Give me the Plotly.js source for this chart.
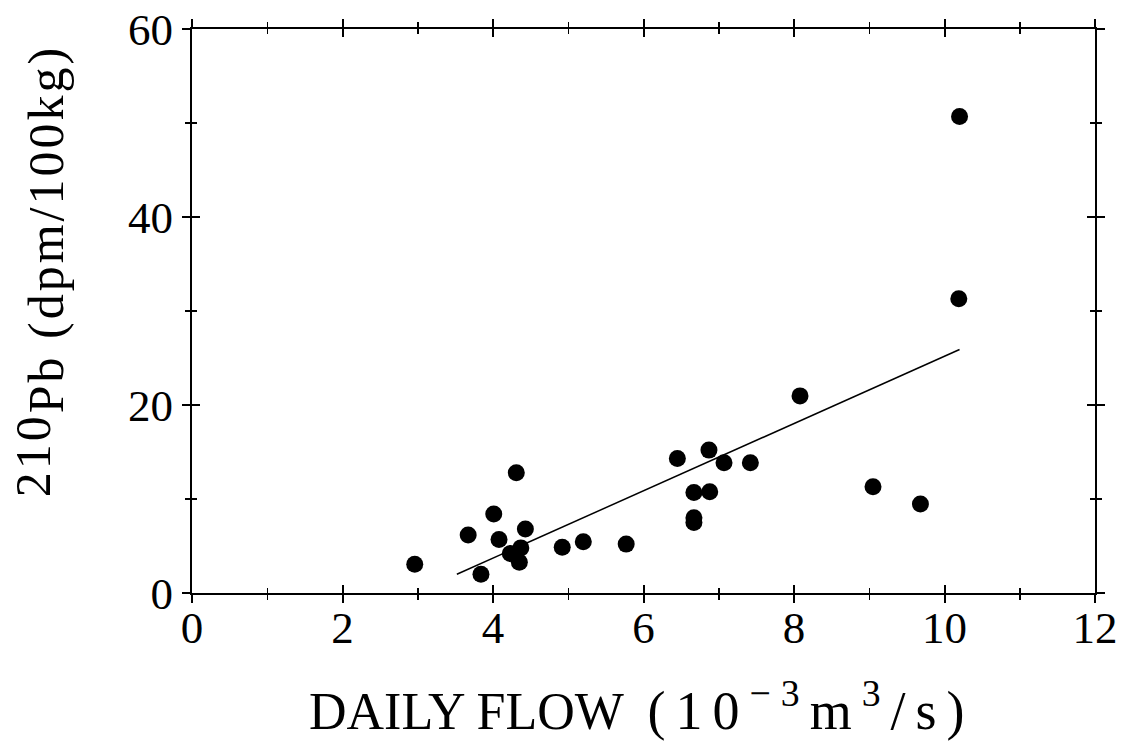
<!DOCTYPE html>
<html>
<head>
<meta charset="utf-8">
<script src="https://cdn.plot.ly/plotly-3.0.1.min.js"></script>
<style>html,body{margin:0;padding:0;background:#fff;}#chart{width:1129px;height:746px;}</style>
</head>
<body>
<div id="chart"></div>
<script>
// Daily flow (10^-3 m^3/s) and 210Pb (dpm/100kg)
const flow = [2.96, 3.84, 3.67, 4.01, 4.31, 4.08, 4.43, 4.23, 4.37, 4.35, 4.92, 5.20, 5.77, 6.45, 6.87, 7.07, 7.42, 8.08, 6.67, 6.88, 6.67, 6.67, 9.05, 9.68, 10.20, 10.19];
const pb210 = [3.05, 1.99, 6.16, 8.4, 12.8, 5.7, 6.8, 4.2, 4.8, 3.26, 4.86, 5.45, 5.2, 14.3, 15.2, 13.85, 13.85, 20.97, 10.7, 10.77, 8.0, 7.5, 11.3, 9.46, 50.7, 31.3];
// regression line end points
const fitX = [3.52, 10.2];
const fitY = [2.0, 25.9];
const xTicks = [0, 2, 4, 6, 8, 10, 12];
const yTicks = [0, 20, 40, 60];

const FONT = "Liberation Serif, Times New Roman, serif";

const traces = [
  {x: fitX, y: fitY, mode: 'lines', type: 'scatter', line: {color: '#000', width: 1.5}, hoverinfo: 'skip', showlegend: false},
  {x: flow, y: pb210, mode: 'markers', type: 'scatter', marker: {color: '#000', size: 17}, showlegend: false},
  {x: [], y: [], xaxis: 'x2', yaxis: 'y2', type: 'scatter', showlegend: false}
];

const tickFont = {family: FONT, size: 45, color: '#000'};

const layout = {
  width: 1129, height: 746,
  paper_bgcolor: '#fff', plot_bgcolor: '#fff',
  margin: {l: 192, r: 34, t: 29, b: 153},
  showlegend: false,
  xaxis: {
    range: [0, 12], tickmode: 'array', tickvals: xTicks, ticks: 'outside',
    showgrid: false, zeroline: false, showline: true, mirror: 'ticks',
    linecolor: '#000', linewidth: 2, tickcolor: '#000', tickwidth: 2, ticklen: 8,
    showticklabels: false,
    minor: {dtick: 1, ticks: 'outside', ticklen: 5, tickwidth: 1.5, tickcolor: '#000'}
  },
  yaxis: {
    range: [0, 60], tickmode: 'array', tickvals: yTicks, ticks: 'outside',
    showgrid: false, zeroline: false, showline: true, mirror: 'ticks',
    linecolor: '#000', linewidth: 2, tickcolor: '#000', tickwidth: 2, ticklen: 8,
    tickfont: tickFont, ticklabelstandoff: 0,
    minor: {dtick: 10, ticks: 'outside', ticklen: 5, tickwidth: 1.5, tickcolor: '#000'}
  },
  xaxis2: {
    overlaying: 'x', anchor: 'y2', range: [0, 12], showgrid: false, zeroline: false,
    showline: false, showticklabels: true, tickfont: tickFont, ticklabelstandoff: 4,
    tickmode: 'array', tickvals: xTicks,
    ticks: 'inside', ticklen: 8, tickwidth: 2, tickcolor: '#000', mirror: 'ticks',
    minor: {dtick: 1, ticks: 'inside', ticklen: 5, tickwidth: 1.5, tickcolor: '#000'}
  },
  yaxis2: {
    overlaying: 'y', anchor: 'x2', range: [0, 60], showgrid: false, zeroline: false,
    showline: false, showticklabels: false, tickmode: 'array', tickvals: yTicks,
    ticks: 'inside', ticklen: 8, tickwidth: 2, tickcolor: '#000', mirror: 'ticks',
    minor: {dtick: 10, ticks: 'inside', ticklen: 5, tickwidth: 1.5, tickcolor: '#000'}
  },
  annotations: [
    {
      xref: 'paper', yref: 'paper', x: 0.498, y: -0.202, xanchor: 'center', yanchor: 'middle',
      showarrow: false,
      text: '<span style="font-size:52px">DAILY FLOW</span><span style="letter-spacing:10px"> (10<sup>\u22123</sup>m<sup>3</sup>/s)</span>',
      font: {family: FONT, size: 54, color: '#000'}
    },
    {
      xref: 'paper', yref: 'paper', x: -0.168, y: 0.571, xanchor: 'center', yanchor: 'middle',
      showarrow: false, textangle: -90,
      text: '<span style="letter-spacing:3px"><span style="baseline-shift:13px">210</span>Pb (dpm/100kg)</span>',
      font: {family: FONT, size: 50, color: '#000'}
    }
  ]
};

Plotly.newPlot('chart', traces, layout, {displayModeBar: false, staticPlot: true});
</script>
</body>
</html>
